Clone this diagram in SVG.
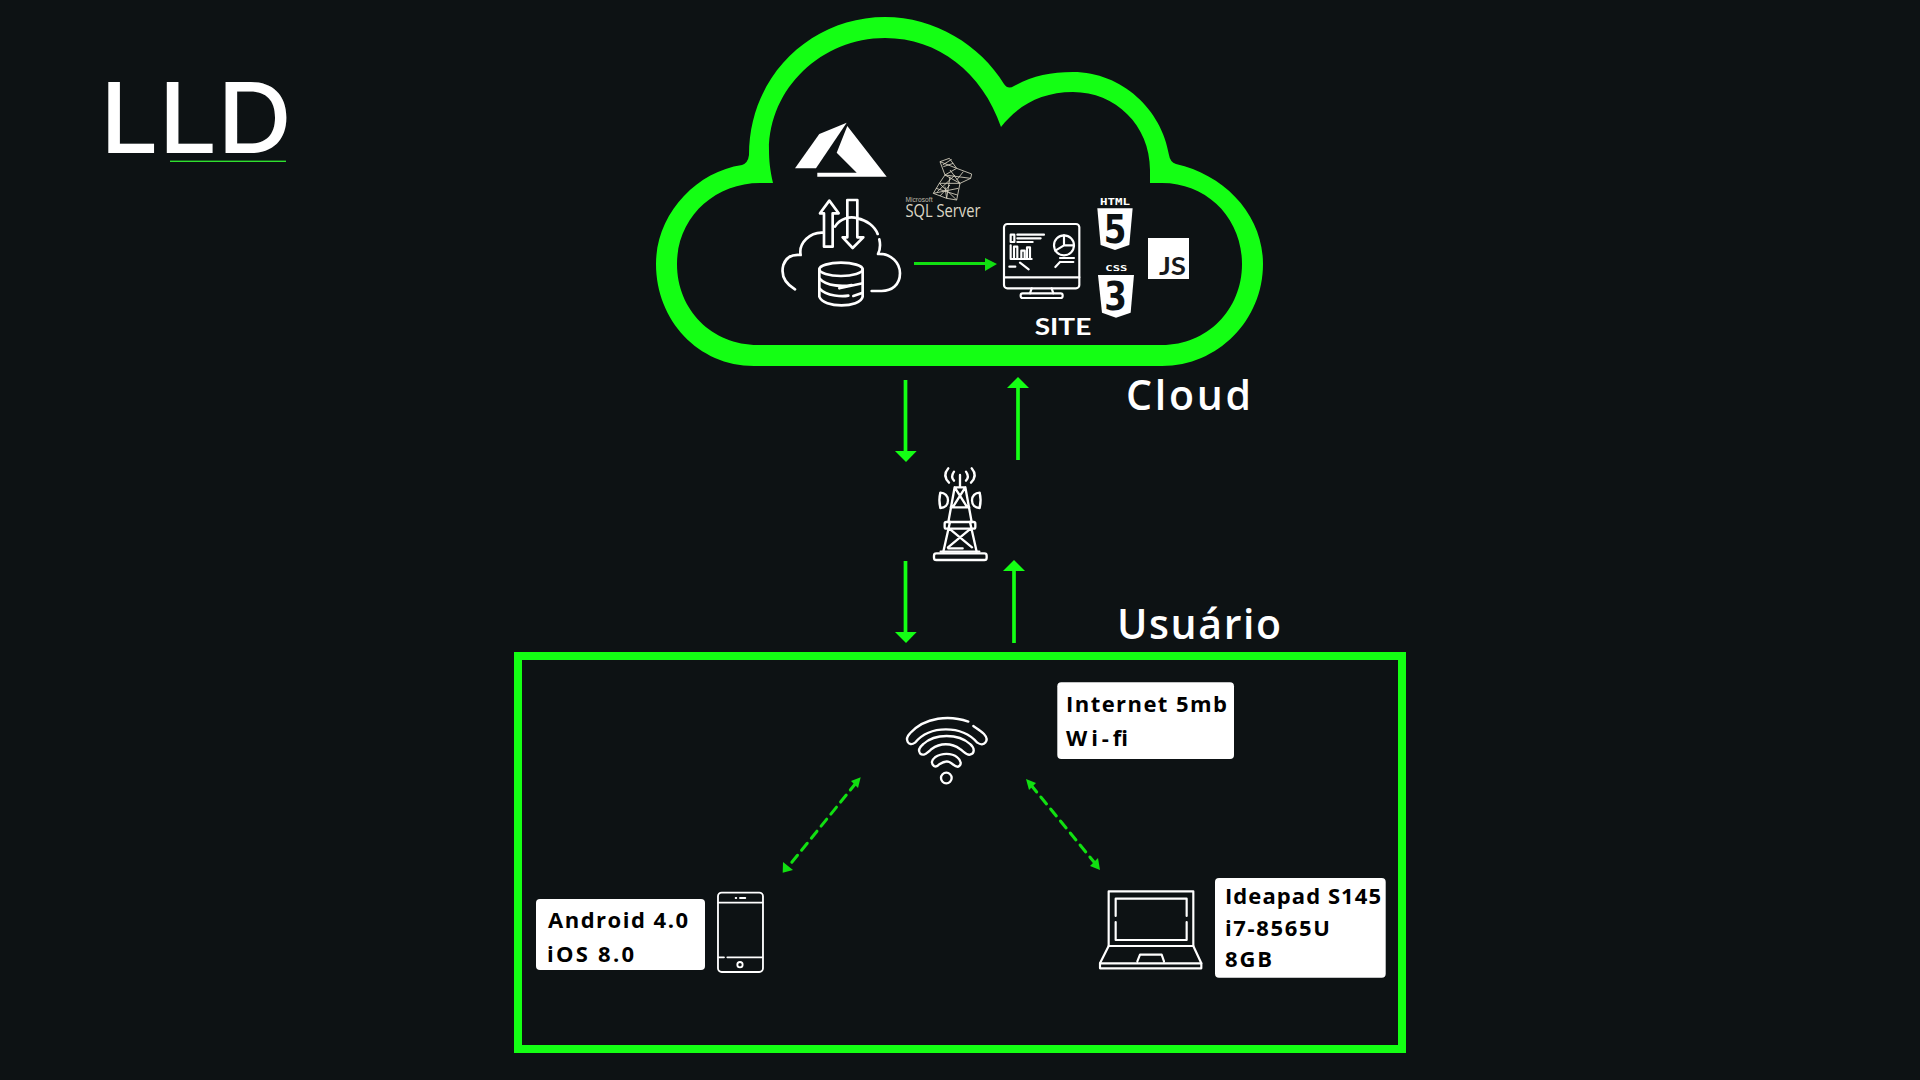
<svg xmlns="http://www.w3.org/2000/svg" width="1920" height="1080" viewBox="0 0 1920 1080">
<style>
.t{font-family:"Open Sans","Noto Sans","Liberation Sans",sans-serif;font-weight:600}
.lb{font-size:22px;fill:#000;font-weight:700}
.ic{fill:none;stroke:#fff;stroke-linecap:round;stroke-linejoin:round}
.c{stroke:#14ff14;stroke-width:3.7;fill:none}
.d{stroke:#11e011;stroke-width:3;fill:none;stroke-dasharray:9 6.5;stroke-linecap:round}
.box{fill:#fff}
</style>
<rect width="1920" height="1080" fill="#0d1214"/>

<g id="title">
<text x="100" y="152.7" font-family="Inter,'Liberation Sans',sans-serif" font-weight="500" font-size="97" fill="#fff" textLength="192" lengthAdjust="spacingAndGlyphs">LLD</text>
<rect x="170" y="160.6" width="116" height="1.4" fill="#2fe02f"/>
</g>

<g id="cloud">
<path fill="#14ff14" fill-rule="evenodd" d="M754 366C698 366 656 320 656 264C656 215 695 172 742 165Q748 163 749 155C749 75 812 17 885 17C935 17 980 45 1004 84Q1008 90 1014 86C1032 76 1050 72 1073 72C1122 72 1162 110 1169 155Q1170 162 1176 164C1225 175 1263 215 1263 264C1263 320 1218 366 1162 366ZM758 345C712 345 677 310 677 264C677 218 714 183 760 183L773 183C770 170 769 160 769 150C769 88 822 38 885 38C938 38 982 72 1001 127C1018 105 1042 92 1073 92C1115 92 1150 125 1150 170L1150 183L1162 183C1207 183 1242 218 1242 264C1242 310 1207 345 1162 345Z"/>
<text class="t" x="1126" y="410" font-size="41" fill="#fff" textLength="125" lengthAdjust="spacing">Cloud</text>
</g>

<g id="azure" fill="#fff">
<path d="M795 168.3L819.3 134L846.7 122.7L816 168.3Z"/>
<path d="M847.3 126L886.7 176.7L817.3 176.7L817.3 172.7L856.7 172.7L836.7 152.7Z"/>
</g>

<g id="sqlserver">
<g transform="translate(900 150) scale(.3333)" fill="none" stroke="#d8d2c0" stroke-width="2.6" stroke-linejoin="round">
<path d="M120 35L148 25L170 55L215 72L212 85L180 100L170 150L140 145L100 130L118 100L135 75Z"/>
<path d="M120 35L170 55M135 75L212 85M135 75L180 100M170 55L135 75M150 60L180 100M118 100L180 100M100 130L175 115M118 100L170 150M140 145L150 80M165 75L112 125M108 115L172 135M128 45L155 28M130 50L160 40M190 65L170 90M135 110L140 145M150 105L120 138"/>
</g>
<text x="905.5" y="202" font-family="'Liberation Sans',sans-serif" font-size="7" fill="#bdb8a8" textLength="27" lengthAdjust="spacingAndGlyphs">Microsoft</text>
<text x="905.5" y="217" font-family="'Open Sans','Liberation Sans',sans-serif" font-size="19" fill="#dcd7c6" textLength="75" lengthAdjust="spacingAndGlyphs">SQL Server</text>
</g>

<g id="cloud-db" transform="translate(760 110) scale(.3333)" class="ic" stroke-width="8">
<path d="M105 538C75 520 62 495 70 465C78 442 95 432 122 435C115 400 150 365 190 368"/>
<path d="M192 410L218 410L218 310L236 310L208 272L180 310L192 310Z"/>
<path d="M262 270L292 270L292 382L310 382L278 414L248 382L262 382Z"/>
<path d="M225 350C240 325 270 318 292 325C320 330 345 350 353 372M358 388C362 405 360 420 354 432C395 430 420 460 420 490C420 525 395 543 365 543L335 543"/>
<ellipse cx="243" cy="478" rx="65" ry="20"/>
<path d="M178 478L178 560C190 595 300 595 308 560L308 478"/>
<path d="M178 505C200 530 250 530 275 525M178 535C200 560 250 560 265 557M238 535L308 520M280 558L308 548"/>
</g>

<g id="site" transform="translate(980 180) scale(.3333)">
<g class="ic" stroke-width="6.5">
<rect x="72" y="132" width="226" height="193" rx="10"/>
<path d="M72 292L298 292M155 325L150 340M215 325L220 340"/>
<rect x="122" y="340" width="126" height="14" rx="6"/>
<rect x="92" y="164" width="11" height="22"/>
<path d="M112 164L192 164M112 175L182 175M112 186L158 186"/>
<path d="M92 196L92 237M92 237L155 237M102 237L102 200L112 200L112 237M124 237L124 212L134 212L134 237M141 237L141 202L150 202L150 237"/>
<path d="M88 260L106 260M120 248L146 268"/>
<circle cx="252" cy="196" r="30"/>
<path d="M252 166L252 196L226 212M252 196L280 196"/>
<path d="M240 234L282 234M240 246L280 246M240 246L226 261"/>
</g>
<text x="164" y="466" font-family="'Lato','Noto Sans',sans-serif" font-weight="700" font-size="66" fill="#fff" textLength="170" lengthAdjust="spacingAndGlyphs">SITE</text>
</g>

<g id="html5" transform="translate(980 180) scale(.3333)">
<text x="360" y="75" font-family="'DejaVu Sans Mono',monospace" font-weight="700" font-size="27" fill="#fff" textLength="90" lengthAdjust="spacingAndGlyphs">HTML</text>
<path fill="#fff" d="M352 85L458 85L448 195L405 210L362 195Z"/>
<text x="371" y="188" font-family="'DejaVu Sans',sans-serif" font-weight="700" font-size="118" fill="#0d1214" textLength="68" lengthAdjust="spacingAndGlyphs">5</text>
</g>
<g id="css3" transform="translate(980 180) scale(.3333)">
<text x="376" y="272" font-family="'DejaVu Sans Mono',monospace" font-weight="700" font-size="24" fill="#fff" textLength="66" lengthAdjust="spacingAndGlyphs">CSS</text>
<path fill="#fff" d="M354 285L462 285L452 398L408 413L366 398Z"/>
<text x="373" y="390" font-family="'DejaVu Sans',sans-serif" font-weight="700" font-size="118" fill="#0d1214" textLength="68" lengthAdjust="spacingAndGlyphs">3</text>
</g>
<g id="js">
<rect x="1148" y="238" width="41" height="41" fill="#fff"/>
<text x="1159" y="274.5" font-family="'Lato','Noto Sans',sans-serif" font-weight="700" font-size="25" fill="#17191c" textLength="27" lengthAdjust="spacingAndGlyphs">JS</text>
</g>

<g id="tower" transform="translate(880 370) scale(.3333)" class="ic" stroke-width="7">
<path d="M205 295C192 310 194 325 207 338M222 305C215 315 215 325 222 332M275 295C288 310 286 325 273 338M258 305C265 315 265 325 258 332"/>
<path d="M240 315L240 350M224 352L256 352L275 456M224 352L205 456M224 352L262 412M256 352L218 412M212 412L268 412M210 456L190 545M270 456L290 545M208 476L276 532M272 476L204 532"/>
<path d="M181 368C178 380 178 402 181 414C195 414 204 405 204 391C204 378 195 368 181 368ZM299 368C302 380 302 402 299 414C285 414 276 405 276 391C276 378 285 368 299 368Z"/>
<rect x="194" y="456" width="92" height="20" rx="5"/>
<rect x="162" y="550" width="158" height="20" rx="7"/>
<path d="M182 545L298 545M205 535L248 535"/>
</g>

<g id="connectors">
<path class="c" d="M905.5 380L905.5 451"/>
<path fill="#14ff14" d="M895 451L916.7 451L906 462Z"/>
<path class="c" d="M1018 460L1018 388"/>
<path fill="#14ff14" d="M1007 388L1029 388L1018 377Z"/>
<path class="c" d="M905.5 561L905.5 632"/>
<path fill="#14ff14" d="M895 632L916.7 632L906 643Z"/>
<path class="c" d="M1014 643L1014 571"/>
<path fill="#14ff14" d="M1003 571L1025 571L1014 560Z"/>
<path stroke="#11e011" stroke-width="3" fill="none" d="M914 263.5L985 263.5"/>
<path fill="#11e011" d="M985 258L997 264L985 271Z"/>
<path class="d" d="M856 783L788 867"/>
<path fill="#11e011" d="M860.7 777.3L851 781L858 788Z"/>
<path fill="#11e011" d="M782.7 872.7L783 862L793 870Z"/>
<path class="d" d="M1031 785L1094 862"/>
<path fill="#11e011" d="M1026 779L1036 783L1029 790Z"/>
<path fill="#11e011" d="M1100 870L1090 866L1098 858Z"/>
</g>

<g id="user-area">
<rect x="518" y="656" width="884" height="393" fill="none" stroke="#14ff14" stroke-width="8"/>
<text class="t" x="1117" y="639" font-size="41" fill="#fff" textLength="164" lengthAdjust="spacing">Usuário</text>
</g>

<g id="wifi" transform="translate(860 670) scale(.3333)" class="ic" stroke-width="7">
<path d="M325 155C270 135 195 140 150 190C132 208 145 232 165 218C210 165 305 165 352 218C372 232 390 212 372 192C362 182 350 175 340 168"/>
<path d="M180 250C172 240 178 232 190 222C225 190 295 190 330 222C345 235 345 250 330 254C320 257 312 245 300 237C275 218 240 218 215 237C200 250 190 260 180 250Z"/>
<path d="M222 288C212 280 215 270 225 262C245 248 275 248 292 262C305 272 305 285 295 290C285 292 280 282 268 276C258 272 250 275 238 283C232 290 228 292 222 288Z"/>
<circle cx="259" cy="324" r="16"/>
</g>
<g id="internet">
<rect class="box" x="1057.3" y="682.3" width="176.7" height="76.7" rx="4"/>
<text class="t lb" x="1066" y="711.7" textLength="161" lengthAdjust="spacing">Internet 5mb</text>
<text class="t lb" x="1066" y="746" textLength="62" lengthAdjust="spacing">Wi-fi</text>
</g>

<g id="phone" transform="translate(520 870) scale(.3333)" class="ic" stroke-width="5.5">
<rect x="594" y="68" width="135" height="238" rx="11"/>
<path d="M596 98L727 98M596 262L612 262M622 262L727 262M660 84L676 84M647 84L649 84"/>
<circle cx="660" cy="284" r="8"/>
</g>
<g id="android">
<rect class="box" x="536" y="899" width="169" height="71" rx="4"/>
<text class="t lb" x="548" y="928.3" textLength="140" lengthAdjust="spacing">Android 4.0</text>
<text class="t lb" x="547" y="961.7" textLength="87" lengthAdjust="spacing">iOS 8.0</text>
</g>

<g id="laptop" transform="translate(1080 860) scale(.3333)" class="ic" stroke-width="6.5">
<path d="M86 258L86 94L340 94L340 258"/>
<path d="M107 168L107 116L320 116L320 168M107 186L107 240L320 240L320 186"/>
<path d="M86 258L340 258L364 310L364 325L60 325L60 310Z"/>
<path d="M60 310L364 310M172 304L180 284L245 284L252 304"/>
</g>
<g id="ideapad">
<rect class="box" x="1215" y="878" width="170.7" height="99.7" rx="4"/>
<text class="t lb" x="1225" y="904" textLength="156" lengthAdjust="spacing">Ideapad S145</text>
<text class="t lb" x="1225" y="936" textLength="105" lengthAdjust="spacing">i7-8565U</text>
<text class="t lb" x="1225" y="966.7" textLength="47" lengthAdjust="spacing">8GB</text>
</g>
</svg>
